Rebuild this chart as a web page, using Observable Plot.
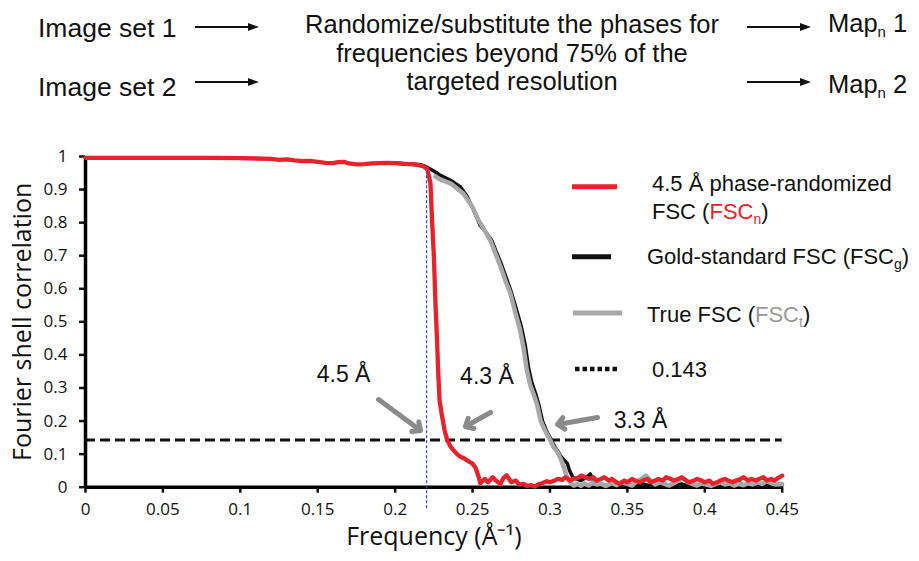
<!DOCTYPE html>
<html><head><meta charset="utf-8">
<script src="https://cdn.jsdelivr.net/npm/d3@7"></script>
<script src="https://cdn.jsdelivr.net/npm/@observablehq/plot@0.6"></script>
<style>
body{margin:0;background:#fff;}
#wrap{position:relative;width:919px;height:561px;overflow:hidden;background:#fff;}
#wrap svg{position:absolute;left:0;top:0;}
</style></head>
<body><div id="wrap"></div>
<script>
// ---------- data ----------
const xTicks = [0,0.05,0.1,0.15,0.2,0.25,0.3,0.35,0.4,0.45];
const yTicks = [0,0.1,0.2,0.3,0.4,0.5,0.6,0.7,0.8,0.9,1];
const threshold = 0.143;
const cutoffFreq = 0.2203; // 1/4.5 Å target
// 4.5 Å phase-randomized FSC (FSCn) [freq, fsc]
const fscRandomized = [[0,0.996],[0.02,0.996],[0.04,0.996],[0.06,0.996],[0.08,0.996],[0.1,0.995],[0.11,0.994],[0.12,0.993],[0.125,0.99],[0.13,0.991],[0.135,0.988],[0.14,0.986],[0.145,0.987],[0.15,0.984],[0.155,0.981],[0.16,0.98],[0.163,0.983],[0.167,0.984],[0.17,0.979],[0.175,0.976],[0.18,0.977],[0.185,0.979],[0.19,0.98],[0.195,0.981],[0.2,0.98],[0.205,0.978],[0.21,0.977],[0.215,0.974],[0.218,0.971],[0.2207,0.962],[0.2228,0.92],[0.2239,0.8],[0.225,0.7],[0.226,0.56],[0.2271,0.44],[0.2278,0.35],[0.2287,0.262],[0.2304,0.212],[0.232,0.17],[0.2336,0.143],[0.2355,0.125],[0.2378,0.111],[0.24,0.1],[0.2422,0.092],[0.245,0.086],[0.2475,0.078],[0.2498,0.072],[0.252,0.058],[0.254,0.03],[0.255,0.012],
[0.258,0.025],[0.26,0.015],[0.263,0.03],[0.265,0.02],[0.268,0.01],[0.27,0.028],[0.272,0.036],[0.275,0.015],[0.278,0.02],[0.28,0.008],[0.283,0.01],[0.285,0.004],[0.288,0.006],[0.29,0.002],[0.293,0.01],[0.295,0.012],[0.298,0.018],[0.3,0.015],[0.303,0.02],[0.305,0.025],[0.308,0.022],[0.31,0.03],[0.313,0.02],[0.315,0.025],[0.318,0.028],[0.32,0.035],[0.323,0.03],[0.325,0.025],[0.328,0.03],[0.33,0.02],[0.333,0.025],[0.335,0.03],[0.338,0.02],[0.34,0.025],[0.343,0.015],[0.345,0.01],[0.348,0.02],[0.35,0.015],[0.353,0.025],[0.355,0.02],[0.358,0.015],[0.36,0.02],[0.363,0.025],[0.365,0.015],[0.368,0.02],[0.37,0.025],[0.373,0.02],[0.375,0.03],[0.378,0.025],[0.38,0.02],[0.383,0.025],[0.385,0.03],[0.388,0.02],[0.39,0.015],[0.393,0.02],[0.395,0.025],[0.398,0.02],[0.4,0.015],[0.403,0.02],[0.405,0.01],[0.408,0.015],[0.41,0.02],[0.413,0.025],[0.415,0.02],[0.418,0.015],[0.42,0.02],[0.423,0.025],[0.425,0.03],[0.428,0.02],[0.43,0.025],[0.433,0.02],[0.435,0.025],[0.438,0.03],[0.44,0.02],[0.443,0.025],[0.445,0.02],[0.448,0.03],[0.45,0.035]];
// Gold-standard FSC (FSCg)
const fscGold = [[0.2,0.98],[0.205,0.979],[0.21,0.978],[0.2164,0.975],[0.22,0.969],[0.225,0.956],[0.2293,0.943],[0.2358,0.928],[0.2422,0.908],[0.2465,0.879],[0.2506,0.839],[0.2551,0.79],[0.2585,0.772],[0.2625,0.745],[0.2655,0.71],[0.2688,0.672],[0.272,0.63],[0.275,0.59],[0.2785,0.535],[0.2815,0.485],[0.284,0.43],[0.2862,0.36],[0.2882,0.318],[0.2908,0.282],[0.2928,0.25],[0.2952,0.2],[0.2982,0.166],[0.3007,0.145],[0.3032,0.122],[0.3052,0.108],[0.3072,0.092],[0.3092,0.082],[0.3112,0.072],[0.3127,0.05],[0.3147,0.03],[0.317,0.025],[0.32,0.02],[0.323,0.028],[0.326,0.04],[0.328,0.02],[0.331,0.01],[0.335,0.005],[0.34,0.01],[0.345,0.002],[0.35,0.008],[0.355,0.003],[0.36,0.01],[0.365,0.004],[0.37,0.008],[0.375,0.002],[0.38,0.006],[0.385,0.01],[0.39,0.004],[0.395,0.008],[0.4,0.003],[0.405,0.007],[0.41,0.002],[0.415,0.008],[0.42,0.02],[0.425,0.006],[0.43,0.01],[0.435,0.004],[0.44,0.009],[0.445,0.003],[0.45,0.006]];
// True FSC (FSCt)
const fscTrue = [[0.226,0.94],[0.228,0.933],[0.236,0.918],[0.244,0.888],[0.25,0.847],[0.254,0.806],[0.258,0.775],[0.2616,0.745],[0.265,0.705],[0.268,0.668],[0.2712,0.625],[0.2745,0.585],[0.2775,0.53],[0.2805,0.48],[0.283,0.42],[0.285,0.355],[0.2872,0.31],[0.2895,0.28],[0.2917,0.25],[0.294,0.2],[0.2975,0.165],[0.3003,0.141],[0.3025,0.12],[0.3047,0.108],[0.307,0.085],[0.309,0.06],[0.311,0.03],[0.313,0.015],[0.3154,0.005],[0.318,0.01],[0.32,0.004],[0.322,0.012],[0.325,0.005],[0.328,0.015],[0.33,0.008],[0.333,0.01],[0.336,0.004],[0.34,0.012],[0.343,0.006],[0.346,0.015],[0.35,0.01],[0.353,0.005],[0.356,0.018],[0.359,0.025],[0.362,0.035],[0.365,0.02],[0.368,0.008],[0.371,0.015],[0.374,0.01],[0.377,0.005],[0.38,0.012],[0.383,0.02],[0.386,0.028],[0.389,0.015],[0.392,0.01],[0.395,0.005],[0.398,0.012],[0.401,0.008],[0.404,0.004],[0.407,0.01],[0.41,0.015],[0.413,0.008],[0.416,0.012],[0.419,0.005],[0.422,0.01],[0.425,0.006],[0.428,0.012],[0.431,0.008],[0.434,0.015],[0.437,0.01],[0.44,0.018],[0.443,0.012],[0.446,0.008],[0.45,0.01]];
// resolution annotations: label, label position, arrow from -> to (data units)
const annotLabels = ["4.5 Å","4.3 Å","3.3 Å"];
const annotLabelFreq = [0.1667,0.2593,0.3585];
const annotLabelFsc = [0.34,0.335,0.2];
const annotArrowFrom = [[0.1893,0.265],[0.2616,0.226],[0.3307,0.2107]];
const annotArrowTo = [[0.2164,0.1715],[0.2454,0.1836],[0.3049,0.1896]];
// header / legend text
const headerLeft = ["Image set 1","Image set 2"];
const headerMid = ["Randomize/substitute the phases for","frequencies beyond 75% of the","targeted resolution"];
const headerRight = ["1","2"];
const RED = "#e8222a", GRAY = "#a8a8a8", BLACK = "#111";

const pts = a => a.map(([x,y]) => ({x,y}));
const fmt = d3.format("~g");

const chart = Plot.plot({
  width: 919, height: 561,
  marginLeft: 85, marginRight: 137.3, marginTop: 156, marginBottom: 74.3,
  x: {domain: [0,0.45]}, y: {domain: [0,1]},
  style: {fontFamily: '"Open Sans", sans-serif', fontSize: "17px", color: "#111", background: "transparent", overflow: "visible"},
  marks: [
    Plot.axisX({ticks: xTicks, tickFormat: fmt, tickSize: 6, tickPadding: 10, stroke: BLACK, strokeWidth: 2.5, fontSize: 17, fill: "#111", label: null}),
    Plot.axisY({ticks: yTicks, tickFormat: fmt, tickSize: 6, tickPadding: 12, stroke: BLACK, strokeWidth: 2.5, fontSize: 17, fill: "#111", label: null}),
    Plot.ruleX([0], {stroke: "#000", strokeWidth: 3.5}),
    Plot.ruleY([0], {stroke: "#000", strokeWidth: 3.5}),
    Plot.ruleY([threshold], {stroke: BLACK, strokeWidth: 3, strokeDasharray: "10,5"}),
    Plot.line(pts(fscGold), {x: "x", y: "y", stroke: BLACK, strokeWidth: 3.5}),
    Plot.line(pts(fscTrue), {x: "x", y: "y", stroke: GRAY, strokeWidth: 4.5}),
    Plot.line(pts(fscRandomized), {x: "x", y: "y", stroke: RED, strokeWidth: 4.3}),
    Plot.ruleX([cutoffFreq], {y1: -0.065, y2: 0.966, stroke: "#3553b0", strokeWidth: 1.3, strokeDasharray: "3,2"}),
    Plot.arrow(annotArrowFrom.map((f,i) => ({f, t: annotArrowTo[i]})), {
      x1: d => d.f[0], y1: d => d.f[1], x2: d => d.t[0], y2: d => d.t[1],
      stroke: "#8a8a8a", strokeWidth: 5, headLength: 2.6, headAngle: 85}),
    Plot.text(annotLabels, {x: (d,i) => annotLabelFreq[i], y: (d,i) => annotLabelFsc[i], text: d => d,
      fontFamily: '"Liberation Sans", Arial, sans-serif', fontSize: 23, fill: "#111"}),
    Plot.text(["Fourier shell correlation"], {frameAnchor: "left", dx: -63, rotate: -90, textAnchor: "middle", lineAnchor: "middle", fontSize: 25, fill: "#111"}),
    Plot.text(["Frequency (Å⁻¹)"], {frameAnchor: "bottom", dy: 50, textAnchor: "middle", lineAnchor: "middle", fontSize: 25, fill: "#111"})
  ]
});
const wrap = document.getElementById("wrap");
wrap.appendChild(chart);

// ---------- overlay: header and legend ----------
const ov = d3.select(wrap).append("svg").attr("width", 919).attr("height", 561)
  .style("font-family", '"Liberation Sans", Arial, sans-serif').attr("fill", "#111");

function arrow(g, x1, x2, y) {
  g.append("line").attr("x1", x1).attr("x2", x2 - 6).attr("y1", y).attr("y2", y).attr("stroke", "#111").attr("stroke-width", 2);
  g.append("path").attr("d", `M${x2},${y}L${x2-11},${y-4}L${x2-11},${y+4}Z`).attr("fill", "#111");
}
const hdr = ov.append("g").attr("font-size", 25.5);
const rowY = [37, 96];
headerLeft.forEach((t,i) => hdr.append("text").attr("x", 38).attr("y", rowY[i]).attr("font-size", 26.5).text(t));
const midY = [33, 62, 90];
headerMid.forEach((t,i) => hdr.append("text").attr("x", 512).attr("y", midY[i]).attr("text-anchor", "middle").text(t));
const mapY = [32, 93];
headerRight.forEach((t,i) => {
  const tx = hdr.append("text").attr("x", 828).attr("y", mapY[i]);
  tx.append("tspan").text("Map");
  tx.append("tspan").attr("font-size", 15).attr("dy", 5).text("n");
  tx.append("tspan").attr("dy", -5).text(" " + t);
});
const arrowY = [27, 82];
arrowY.forEach(y => { arrow(hdr, 195, 259, y); arrow(hdr, 747, 811, y); });

// legend
const lg = ov.append("g").attr("font-size", 22);
function sub(tx, main, s, color) {
  tx.append("tspan").attr("fill", color).text(main);
  tx.append("tspan").attr("fill", color).attr("font-size", 14).attr("dy", 5).text(s);
  tx.append("tspan").attr("dy", -5).text(")");
}
lg.append("line").attr("x1", 572).attr("x2", 617).attr("y1", 186.7).attr("y2", 186.7).attr("stroke", RED).attr("stroke-width", 5);
lg.append("text").attr("x", 652).attr("y", 191).text("4.5 Å phase-randomized");
let t2 = lg.append("text").attr("x", 652).attr("y", 219); t2.append("tspan").text("FSC ("); sub(t2, "FSC", "n", RED);
lg.append("line").attr("x1", 572).attr("x2", 611).attr("y1", 256.7).attr("y2", 256.7).attr("stroke", BLACK).attr("stroke-width", 5);
let t3 = lg.append("text").attr("x", 647).attr("y", 264); t3.append("tspan").text("Gold-standard FSC ("); sub(t3, "FSC", "g", "#111");
lg.append("line").attr("x1", 573).attr("x2", 622).attr("y1", 313).attr("y2", 313).attr("stroke", GRAY).attr("stroke-width", 5);
let t4 = lg.append("text").attr("x", 647).attr("y", 322); t4.append("tspan").text("True FSC ("); sub(t4, "FSC", "t", "#999");
lg.append("line").attr("x1", 575).attr("x2", 620).attr("y1", 369).attr("y2", 369).attr("stroke", BLACK).attr("stroke-width", 4.5).attr("stroke-dasharray", "4.5,3");
lg.append("text").attr("x", 652).attr("y", 377).text("0.143");
</script>
</body></html>
